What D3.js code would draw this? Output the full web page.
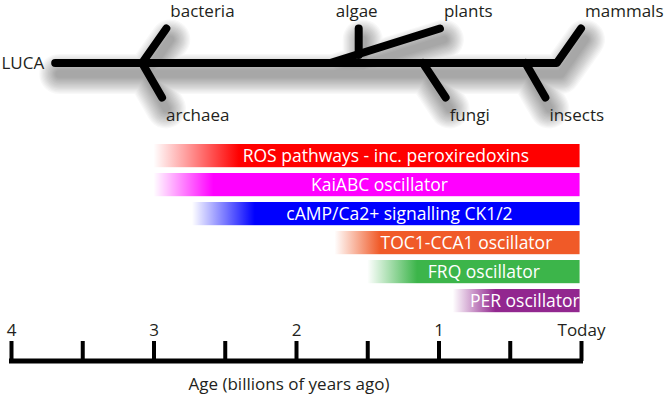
<!DOCTYPE html>
<html>
<head>
<meta charset="utf-8">
<script src="https://cdn.jsdelivr.net/npm/d3@7"></script>
<style>
  html, body { margin: 0; padding: 0; background: #fff; }
  svg { display: block; font-family: "Open Sans", "Noto Sans", sans-serif; }
</style>
</head>
<body>
<svg id="chart" width="666" height="400"></svg>
<script>
// ---------- data ----------
const tickAges   = [4, 3.5, 3, 2.5, 2, 1.5, 1, 0.5, 0];
const tickLabels = ["4", "", "3", "", "2", "", "1", "", "Today"];
const axisTitle  = "Age (billions of years ago)";

const pathways  = ["ROS pathways - inc. peroxiredoxins", "KaiABC oscillator",
                   "cAMP/Ca2+ signalling CK1/2", "TOC1-CCA1 oscillator",
                   "FRQ oscillator", "PER oscillator"];
const originAge = [3.0, 3.0, 2.73, 1.73, 1.5, 0.9];   // faint start of bar
const fullAge   = [2.4, 2.58, 2.29, 1.41, 1.15, 0.6]; // fully established
const endAge    = [0.01, 0.01, 0.01, 0.01, 0.01, 0.01];
const barColors = ["#ff0000", "#ff00ff", "#0000ff", "#f05a28", "#3cb54a", "#92278f"];

const rootName    = "LUCA";
const rootAge     = 3.69;
const trunkEndAge = 0.17;
const taxa        = ["bacteria", "archaea", "algae", "plants", "fungi", "insects", "mammals"];
const branchAge   = [3.08, 3.08, 1.56, 1.76, 1.11, 0.39, 0.17];
const branchLevel = [0, 0, 0.23, 0, 0, 0, 0];
const tipAge      = [2.91, 2.94, 1.56, 0.99, 0.95, 0.25, 0.0];
const tipLevel    = [1, -1, 1, 1, -1, -1, 1];

// ---------- scales ----------
const svg = d3.select("#chart");
const x = d3.scaleLinear().domain([4, 0]).range([11, 581]);
const yTree = d3.scaleLinear().domain([-1, 1]).range([97.5, 28.5]);
const yBar = d3.scaleBand().domain(pathways).range([144, 312.2]).paddingInner(0.2).paddingOuter(0);
const defs = svg.append("defs");

// ---------- tree ----------
const line = d3.line().x(d => x(d[0])).y(d => yTree(d[1]));
// trunk bending up into the mammals branch
const segs = [[[rootAge, 0], [trunkEndAge, 0], [tipAge[6], tipLevel[6]]]];
taxa.forEach((t, i) => {
  if (t === "mammals") return;
  segs.push([[branchAge[i], branchLevel[i]], [tipAge[i], tipLevel[i]]]);
});

// soft drop shadow, built from stacked translucent strokes
const shadow = svg.append("g").attr("transform", "translate(4,11)")
  .attr("fill", "none").attr("stroke-linecap", "round").attr("stroke-linejoin", "round");
d3.range(40, 7, -2.5).forEach(w => {
  shadow.append("path").attr("stroke", "#000").attr("stroke-opacity", 0.026)
    .attr("stroke-width", w).attr("d", segs.map(s => line(s)).join(""));
});

const tree = svg.append("g")
  .attr("fill", "none").attr("stroke", "#000").attr("stroke-width", 8)
  .attr("stroke-linecap", "round").attr("stroke-linejoin", "round");
tree.selectAll("path.seg").data(segs).join("path").attr("class", "seg").attr("d", line);

const labels = svg.append("g").attr("font-size", 17).attr("fill", "#231f20");
labels.append("text").attr("x", x(rootAge) - 11).attr("y", yTree(0) + 6)
  .attr("text-anchor", "end").text(rootName);
taxa.forEach((t, i) => {
  const tx = x(tipAge[i]);
  const up = tipLevel[i] > 0;
  let ax = tx + 4, anchor = "start";
  if (t === "algae") { ax = tx - 2; anchor = "middle"; }
  labels.append("text").attr("x", ax).attr("y", up ? 17 : 121)
    .attr("text-anchor", anchor).text(t);
});

// ---------- bars ----------
pathways.forEach((p, i) => {
  const g = defs.append("linearGradient").attr("id", "grad" + i)
    .attr("gradientUnits", "userSpaceOnUse")
    .attr("x1", x(originAge[i])).attr("x2", x(fullAge[i])).attr("y1", 0).attr("y2", 0);
  g.append("stop").attr("offset", 0).attr("stop-color", barColors[i]).attr("stop-opacity", 0);
  g.append("stop").attr("offset", 1).attr("stop-color", barColors[i]).attr("stop-opacity", 1);
});
const bars = svg.append("g");
bars.selectAll("rect").data(pathways).join("rect")
  .attr("x", (d, i) => x(originAge[i]))
  .attr("width", (d, i) => x(endAge[i]) - x(originAge[i]))
  .attr("y", d => yBar(d)).attr("height", yBar.bandwidth())
  .attr("fill", (d, i) => `url(#grad${i})`);
bars.selectAll("text").data(pathways).join("text")
  .attr("x", (d, i) => ((x(originAge[i]) + x(fullAge[i])) / 2 + x(endAge[i])) / 2 - 2)
  .attr("y", d => yBar(d) + yBar.bandwidth() / 2 + 6)
  .attr("text-anchor", "middle").attr("fill", "#fff").attr("font-size", 17.5)
  .text(d => d);

// ---------- axis ----------
const axis = d3.axisTop(x).tickValues(tickAges)
  .tickFormat(d => tickLabels[tickAges.indexOf(d)])
  .tickSizeInner(20).tickSizeOuter(0).tickPadding(5);
const ag = svg.append("g").attr("transform", "translate(0,361)").call(axis);
ag.select(".domain").attr("stroke", "#000").attr("stroke-width", 5)
  .attr("d", `M${x(4) - 2},0H${x(0) + 2}`);
ag.selectAll(".tick line").attr("stroke", "#000").attr("stroke-width", 4);
ag.selectAll(".tick text").attr("font-size", 17).attr("fill", "#231f20")
  .attr("font-family", "\"Open Sans\", sans-serif");

svg.append("text").attr("x", 289).attr("y", 390).attr("text-anchor", "middle")
  .attr("font-size", 17).attr("fill", "#231f20").text(axisTitle);
</script>
</body>
</html>
